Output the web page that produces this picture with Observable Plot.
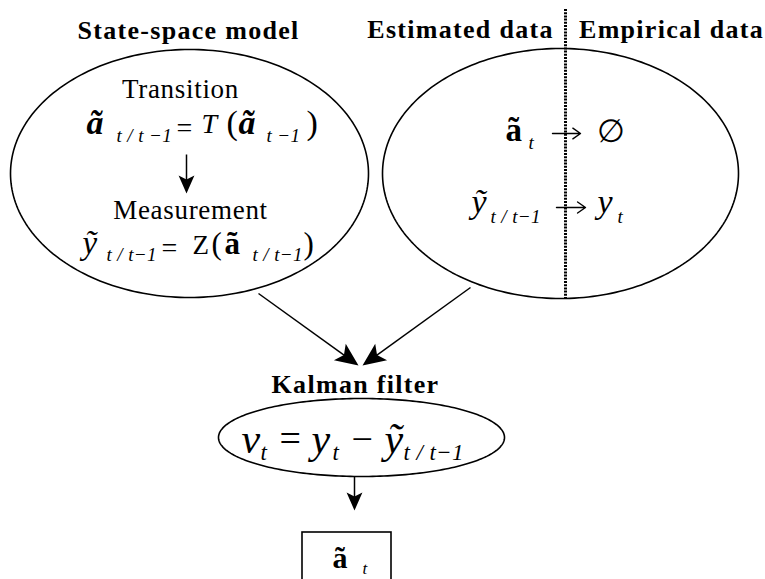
<!DOCTYPE html>
<html><head><meta charset="utf-8">
<script src="https://cdn.jsdelivr.net/npm/d3@7"></script>
<script src="https://cdn.jsdelivr.net/npm/@observablehq/plot@0.6"></script>
<style>
html,body{margin:0;padding:0;background:#fff;}
g[aria-description="titles"] text{letter-spacing:1.3px;}
g[aria-description="labels"] text{letter-spacing:0.7px;}
g[aria-description="math-italic"] text{letter-spacing:0.4px;}
</style></head><body><div id="chart"></div>
<script>
const W = 765, H = 579;
const serif = "'Liberation Serif', 'Times New Roman', serif";

// ---- diagram content ----
const titles = ["State-space model", "Estimated data", "Empirical data", "Kalman filter"];
const titleX = [188, 460, 671, 355];
const titleY = [38, 37, 37, 392];

const stepLabels = ["Transition", "Measurement"];
const stepX = [180, 190];
const stepY = [97, 218];

// nodes (ellipses) of the flow diagram
const nodeIds = ["State-space model", "Estimated / Empirical data", "Kalman filter"];
const nodeCx = [189, 560, 361];
const nodeCy = [173, 173, 437];
const nodeRx = [179, 178, 143];
const nodeRy = [124, 125, 39];

// flows between nodes (filled arrow heads)
const flowFrom = [[186, 154], [258, 293], [470, 287], [354, 476]];
const flowTo   = [[186, 193], [358, 365], [362, 365], [354, 510]];
const flowHead = [18, 23, 23, 18];

// estimated -> empirical mappings
const mapFrom = [552, 556];
const mapTo   = [580, 585];
const mapY    = [133, 207];

// divider between estimated and empirical data
const divider = [{x: 565, y1: 9, y2: 298}];
// output box (state estimate)
const box = [{x1: 302, x2: 391, y1: 532, y2: 600}];

// formula pieces: text, position, size, font
const pieces = [
  // transition equation
  {text: "ã", x: 86, y: 133, size: 34, font: "bi"},
  {text: "t / t −1", x: 116, y: 141, size: 19, font: "i"},
  {text: "=", x: 176, y: 136, size: 28, font: "r"},
  {text: "T", x: 201, y: 132, size: 28, font: "i"},
  {text: "(", x: 226, y: 133, size: 34, font: "r"},
  {text: "ã", x: 238, y: 133, size: 34, font: "bi"},
  {text: "t −1", x: 266, y: 141, size: 19, font: "i"},
  {text: ")", x: 306, y: 133, size: 34, font: "r"},
  // measurement equation
  {text: "ỹ", x: 82, y: 253, size: 33, font: "i"},
  {text: "t / t−1", x: 106, y: 260, size: 19, font: "i"},
  {text: "=", x: 161, y: 256, size: 28, font: "r"},
  {text: "Z", x: 192, y: 253, size: 27, font: "r"},
  {text: "(", x: 211, y: 253, size: 31, font: "r"},
  {text: "ã", x: 224, y: 253, size: 31, font: "b"},
  {text: "t / t−1", x: 252, y: 260, size: 19, font: "i"},
  {text: ")", x: 303, y: 253, size: 31, font: "r"},
  // estimated vs empirical data
  {text: "ã", x: 505, y: 140, size: 33, font: "b"},
  {text: "t", x: 528, y: 148, size: 19, font: "i"},
  {text: "∅", x: 596, y: 141, size: 32, font: "r"},
  {text: "ỹ", x: 471, y: 212, size: 34, font: "i"},
  {text: "t / t−1", x: 490, y: 222, size: 19, font: "i"},
  {text: "y", x: 597, y: 212, size: 34, font: "i"},
  {text: "t", x: 617, y: 222, size: 19, font: "i"},
  // Kalman filter innovation
  {text: "v", x: 241, y: 452, size: 42, font: "i"},
  {text: "t", x: 260, y: 459, size: 23, font: "i"},
  {text: "=", x: 279, y: 450, size: 38, font: "r"},
  {text: "y", x: 311, y: 452, size: 42, font: "i"},
  {text: "t", x: 332, y: 459, size: 23, font: "i"},
  {text: "−", x: 351, y: 451, size: 38, font: "r"},
  {text: "ỹ", x: 384, y: 452, size: 42, font: "i"},
  {text: "t / t−1", x: 403, y: 459, size: 23, font: "i"},
  // state estimate box
  {text: "ã", x: 332, y: 567, size: 30, font: "b"},
  {text: "t", x: 362, y: 573, size: 17, font: "i"}
];

// ---- derived tables for the marks ----
const titleData = titles.map((t, i) => ({text: t, x: titleX[i], y: titleY[i]}));
const stepData = stepLabels.map((t, i) => ({text: t, x: stepX[i], y: stepY[i]}));
const outline = nodeIds.flatMap((id, i) =>
  d3.range(0, 360, 1.5).map(a => ({
    id,
    x: nodeCx[i] + nodeRx[i] * Math.cos(a * Math.PI / 180),
    y: nodeCy[i] + nodeRy[i] * Math.sin(a * Math.PI / 180)
  })));
const flows = flowFrom.map(([x1, y1], i) => {
  const [x2, y2] = flowTo[i];
  const L = Math.hypot(x2 - x1, y2 - y1);
  const ux = (x2 - x1) / L, uy = (y2 - y1) / L;
  const h = flowHead[i];
  return {x1, y1, x2, y2, sx: x2 - ux * h * 0.7, sy: y2 - uy * h * 0.7, head: h,
          angle: Math.atan2(ux, -uy) * 180 / Math.PI};
});
const maps = mapFrom.map((x1, i) => ({x1, x2: mapTo[i], y: mapY[i]}));

// arrow head symbol: tip at origin pointing up
const arrowHead = {
  draw(context, size) {
    const r = Math.sqrt(size / Math.PI);
    const w = r * 0.44;
    context.moveTo(0, 0);
    context.lineTo(w, r);
    context.lineTo(0, r * 0.78);
    context.lineTo(-w, r);
    context.closePath();
  }
};

const textMark = (data, opts) => Plot.text(data, {
  x: "x", y: "y", text: "text", fill: "black", lineAnchor: "bottom", fontFamily: serif, ...opts
});

const chart = Plot.plot({
  width: W, height: H, margin: 0,
  x: {domain: [0, W], range: [0, W], axis: null},
  y: {domain: [0, H], range: [0, H], axis: null},
  style: {background: "white", fontFamily: serif, overflow: "hidden"},
  marks: [
    Plot.line(outline, {x: "x", y: "y", z: "id", curve: "linear-closed", stroke: "black", strokeWidth: 1.6}),
    Plot.ruleX(divider, {x: "x", y1: "y1", y2: "y2", stroke: "black", strokeWidth: 3, strokeDasharray: "2,1.2"}),
    Plot.rect(box, {x1: "x1", x2: "x2", y1: "y1", y2: "y2", fill: "none", stroke: "black", strokeWidth: 1.6, clip: true}),
    Plot.link(flows, {x1: "x1", y1: "y1", x2: "sx", y2: "sy", stroke: "black", strokeWidth: 1.5}),
    Plot.dot(flows.filter(d => d.head === 18), {x: "x2", y: "y2", r: 18, symbol: arrowHead, rotate: "angle", fill: "black", stroke: "none"}),
    Plot.dot(flows.filter(d => d.head === 23), {x: "x2", y: "y2", r: 23, symbol: arrowHead, rotate: "angle", fill: "black", stroke: "none"}),
    Plot.arrow(maps, {x1: "x1", x2: "x2", y1: "y", y2: "y", stroke: "black", strokeWidth: 1.4, headLength: 11, headAngle: 70}),
    textMark(titleData, {fontSize: 26, fontWeight: "bold", textAnchor: "middle", ariaDescription: "titles"}),
    textMark(stepData, {fontSize: 27, textAnchor: "middle", ariaDescription: "labels"}),
    textMark(pieces.filter(d => d.font === "r"), {fontSize: d => d.size, textAnchor: "start"}),
    textMark(pieces.filter(d => d.font === "i"), {fontSize: d => d.size, fontStyle: "italic", textAnchor: "start", ariaDescription: "math-italic"}),
    textMark(pieces.filter(d => d.font === "b"), {fontSize: d => d.size, fontWeight: "bold", textAnchor: "start"}),
    textMark(pieces.filter(d => d.font === "bi"), {fontSize: d => d.size, fontWeight: "bold", fontStyle: "italic", textAnchor: "start"})
  ]
});
document.getElementById("chart").appendChild(chart);
</script></body></html>
